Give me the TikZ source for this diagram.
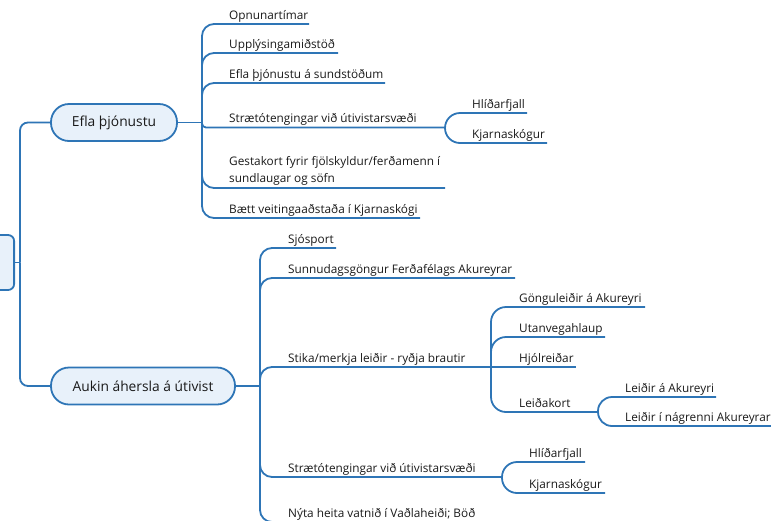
\documentclass[tikz,border=0pt]{standalone}
\usepackage{fontspec}
\setmainfont{Open Sans}
\definecolor{conn}{RGB}{46,117,182}
\definecolor{topicfill}{RGB}{232,241,250}
\begin{document}
\begin{tikzpicture}[x=1pt,y=-1pt,
  link/.style={draw=conn, line width=1.8pt},
  leaf/.style={anchor=base west, inner sep=0pt, font=\fontsize{11.8}{16.5}\selectfont, text=black!90},
  topic/.style={draw=conn, fill=topicfill, line width=1.8pt, rounded corners=18pt, inner xsep=0pt, font=\fontsize{13.8}{16}\selectfont, text=black!90, minimum height=37pt},
]
\useasboundingbox (0,0) rectangle (771,520);
\clip (0,0) rectangle (771,520);

% junctions
\coordinate (jr) at (20,262.5);
\coordinate (j1) at (202,122.5);
\coordinate (j2) at (260,386);
\coordinate (js1) at (445,127.5);
\coordinate (js2) at (491,367);
\coordinate (js3) at (598,412);
\coordinate (js4) at (502,477);

% underline ends
\coordinate (e-opn) at (309,24);
\coordinate (e-upp) at (338,53);
\coordinate (e-efl) at (385,83);
\coordinate (e-ges) at (445,188);
\coordinate (e-bae) at (420,218);
\coordinate (e-hli1) at (527,113);
\coordinate (e-kja1) at (547,143);
\coordinate (e-sjo) at (336,248);
\coordinate (e-sun) at (515,278);
\coordinate (e-nyt) at (480,522);
\coordinate (e-gon) at (645,307);
\coordinate (e-uta) at (605,337);
\coordinate (e-hjo) at (576,367);
\coordinate (e-la) at (716,397);
\coordinate (e-ln) at (790,426);
\coordinate (e-hli2) at (585,462);
\coordinate (e-kja2) at (605,493);

% topics
\node[topic, rounded corners=6pt, minimum width=60pt, minimum height=55pt, anchor=east] (root) at (15,262.5) {};
\node[topic, minimum width=126pt] (efla) at (114,122.5) {Efla þjónustu};
\node[topic, minimum width=184pt] (aukin) at (143,386) {Aukin áhersla á útivist};

% leaves
\node[leaf] (opn) at (229,19) {Opnunartímar};
\node[leaf] (upp) at (229,48) {Upplýsingamiðstöð};
\node[leaf] (efl) at (229,78) {Efla þjónustu á sundstöðum};
\node[leaf] (str1) at (229,122.5) {Strætótengingar við útivistarsvæði};
\node[leaf, anchor=south west, align=left] (ges) at (229,185.5) {Gestakort fyrir fjölskyldur/ferðamenn í\\sundlaugar og söfn};
\node[leaf] (bae) at (229,213) {Bætt veitingaaðstaða í Kjarnaskógi};
\node[leaf] (hli1) at (472,108) {Hlíðarfjall};
\node[leaf] (kja1) at (472,138) {Kjarnaskógur};

\node[leaf] (sjo) at (288,243) {Sjósport};
\node[leaf] (sun) at (288,273) {Sunnudagsgöngur Ferðafélags Akureyrar};
\node[leaf] (sti) at (288,362) {Stika/merkja leiðir - ryðja brautir};
\node[leaf] (str2) at (288,472) {Strætótengingar við útivistarsvæði};
\node[leaf] (nyt) at (288,517) {Nýta heita vatnið í Vaðlaheiði; Böð};
\node[leaf] (gon) at (519,302) {Gönguleiðir á Akureyri};
\node[leaf] (uta) at (519,332) {Utanvegahlaup};
\node[leaf] (hjo) at (519,362) {Hjólreiðar};
\node[leaf] (lei) at (519,407) {Leiðakort};
\node[leaf] (la) at (625,392) {Leiðir á Akureyri};
\node[leaf] (ln) at (625,421) {Leiðir í nágrenni Akureyrar};
\node[leaf] (hli2) at (529,457) {Hlíðarfjall};
\node[leaf] (kja2) at (529,488) {Kjarnaskógur};

% main trunk
\draw[link] (root.east) -- (jr);
\draw[link, rounded corners=8] (jr) |- (efla.west);
\draw[link, rounded corners=8] (jr) |- (aukin.west);
\draw[link] (efla.east) -- (j1);
\draw[link] (aukin.east) -- (j2);

% top branch
\draw[link, rounded corners=12] (j1) |- (e-opn);
\draw[link, rounded corners=12] (j1) |- (e-upp);
\draw[link, rounded corners=12] (j1) |- (e-efl);
\draw[link, rounded corners=4] (j1) |- (js1);
\draw[link, rounded corners=12] (j1) |- (e-ges);
\draw[link, rounded corners=12] (j1) |- (e-bae);
\draw[link, rounded corners=15] (js1) |- (e-hli1);
\draw[link, rounded corners=15] (js1) |- (e-kja1);

% bottom branch
\draw[link, rounded corners=12] (j2) |- (e-sjo);
\draw[link, rounded corners=12] (j2) |- (e-sun);
\draw[link, rounded corners=12] (j2) |- (js2);
\draw[link, rounded corners=12] (j2) |- (js4);
\draw[link, rounded corners=12] (j2) |- (e-nyt);
\draw[link, rounded corners=15] (js2) |- (e-gon);
\draw[link, rounded corners=15] (js2) |- (e-uta);
\draw[link] (js2) -- (e-hjo);
\draw[link, rounded corners=15] (js2) |- (js3);
\draw[link, rounded corners=14] (js3) |- (e-la);
\draw[link, rounded corners=14] (js3) |- (e-ln);
\draw[link, rounded corners=15] (js4) |- (e-hli2);
\draw[link, rounded corners=15] (js4) |- (e-kja2);
\end{tikzpicture}
\end{document}
